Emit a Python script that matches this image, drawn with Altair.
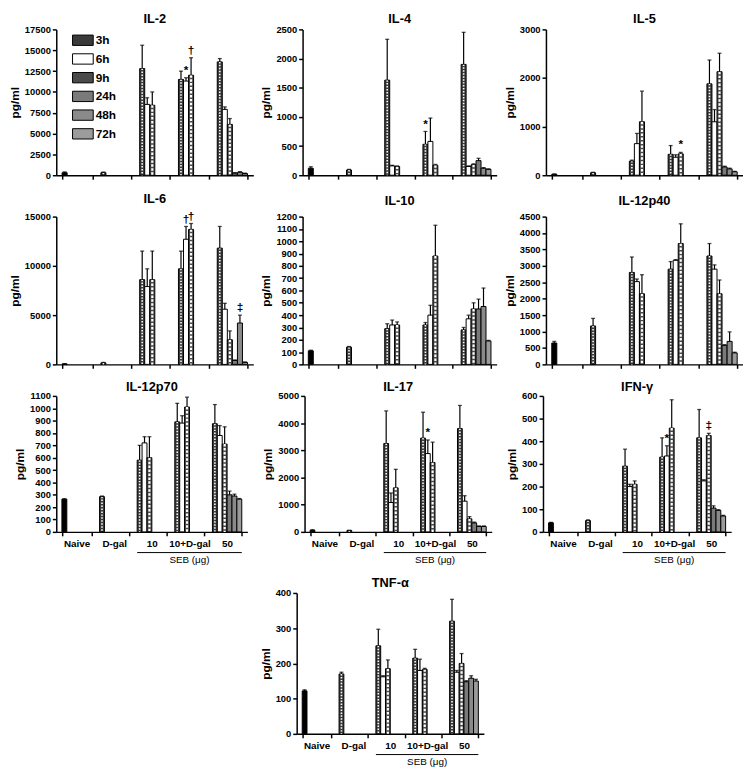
import altair as alt
import pandas as pd

FONT = "Liberation Sans"

# ---------------- data ----------------
GROUPS = ["Naive", "D-gal", "10", "10+D-gal", "50"]
TIMES = ["3h", "6h", "9h", "24h", "48h", "72h"]

BAR_GROUP = ["Naive", "D-gal", "10", "10", "10", "10+D-gal", "10+D-gal", "10+D-gal",
             "50", "50", "50", "50", "50", "50"]
BAR_TIME = ["3h", "3h", "3h", "6h", "9h", "3h", "6h", "9h",
            "3h", "6h", "9h", "24h", "48h", "72h"]
BAR_STYLE = ["Naive", "3h", "3h", "6h", "9h", "3h", "6h", "9h",
             "3h", "6h", "9h", "24h", "48h", "72h"]

CYTOKINES = ["IL-2", "IL-4", "IL-5", "IL-6", "IL-10", "IL-12p40",
             "IL-12p70", "IL-17", "IFN-γ", "TNF-α"]

IL2_MEAN = [300, 300, 12800, 8500, 8400, 11500, 11300, 12000, 13600, 7900, 6100, 250, 350, 200]
IL2_ERR = [100, 80, 2800, 800, 1600, 1000, 400, 2100, 400, 300, 700, 60, 80, 50]

IL4_MEAN = [120, 90, 1630, 160, 150, 530, 580, 170, 1900, 150, 180, 250, 120, 100]
IL4_ERR = [25, 10, 700, 10, 10, 220, 400, 15, 550, 10, 15, 40, 10, 10]

IL5_MEAN = [20, 50, 290, 650, 1100, 430, 370, 440, 1880, 1100, 2130, 170, 130, 70]
IL5_ERR = [5, 10, 20, 210, 630, 180, 50, 30, 490, 250, 380, 15, 15, 10]

IL6_MEAN = [50, 150, 8600, 7900, 8600, 9700, 12700, 13700, 11800, 5600, 2500, 400, 4200, 200]
IL6_ERR = [20, 50, 2900, 1800, 2900, 1800, 1300, 600, 2200, 600, 900, 50, 800, 50]

IL10_MEAN = [110, 140, 290, 320, 320, 320, 400, 880, 280, 370, 450, 450, 470, 190]
IL10_ERR = [5, 5, 40, 40, 25, 20, 80, 250, 20, 30, 50, 80, 150, 5]

IL12P40_MEAN = [650, 1170, 2800, 2520, 2150, 2900, 3170, 3680, 3300, 2900, 2150, 580, 700, 350]
IL12P40_ERR = [50, 230, 470, 80, 580, 230, 20, 600, 380, 130, 420, 20, 290, 20]

IL12P70_MEAN = [265, 285, 580, 720, 600, 890, 880, 1010, 875, 780, 710, 300, 290, 265]
IL12P70_ERR = [3, 5, 120, 50, 170, 150, 60, 80, 155, 80, 140, 30, 15, 5]

IL17_MEAN = [60, 50, 3250, 1080, 1620, 3450, 2880, 2550, 3800, 1130, 480, 330, 200, 200]
IL17_ERR = [20, 10, 1200, 350, 680, 950, 500, 750, 850, 200, 80, 30, 20, 20]

IFNG_MEAN = [40, 50, 290, 200, 210, 330, 335, 458, 415, 225, 425, 105, 95, 70]
IFNG_ERR = [2, 3, 75, 10, 15, 85, 45, 125, 125, 5, 10, 10, 3, 3]

TNFA_MEAN = [122, 170, 250, 162, 185, 215, 180, 183, 320, 175, 200, 148, 158, 150]
TNFA_ERR = [3, 5, 47, 3, 25, 25, 32, 3, 62, 5, 28, 3, 7, 5]

MEANS = {"IL-2": IL2_MEAN, "IL-4": IL4_MEAN, "IL-5": IL5_MEAN, "IL-6": IL6_MEAN,
         "IL-10": IL10_MEAN, "IL-12p40": IL12P40_MEAN, "IL-12p70": IL12P70_MEAN,
         "IL-17": IL17_MEAN, "IFN-γ": IFNG_MEAN, "TNF-α": TNFA_MEAN}
ERRS = {"IL-2": IL2_ERR, "IL-4": IL4_ERR, "IL-5": IL5_ERR, "IL-6": IL6_ERR,
        "IL-10": IL10_ERR, "IL-12p40": IL12P40_ERR, "IL-12p70": IL12P70_ERR,
        "IL-17": IL17_ERR, "IFN-γ": IFNG_ERR, "TNF-α": TNFA_ERR}

Y_TICKS = {
    "IL-2": [0, 2500, 5000, 7500, 10000, 12500, 15000, 17500],
    "IL-4": [0, 500, 1000, 1500, 2000, 2500],
    "IL-5": [0, 1000, 2000, 3000],
    "IL-6": [0, 5000, 10000, 15000],
    "IL-10": [0, 100, 200, 300, 400, 500, 600, 700, 800, 900, 1000, 1100, 1200],
    "IL-12p40": [0, 500, 1000, 1500, 2000, 2500, 3000, 3500, 4000, 4500],
    "IL-12p70": [0, 100, 200, 300, 400, 500, 600, 700, 800, 900, 1000, 1100],
    "IL-17": [0, 1000, 2000, 3000, 4000, 5000],
    "IFN-γ": [0, 100, 200, 300, 400, 500, 600],
    "TNF-α": [0, 100, 200, 300, 400],
}

ANNOT_CYTOKINE = ["IL-2", "IL-2", "IL-4", "IL-5", "IL-6", "IL-6", "IL-6", "IL-17", "IFN-γ", "IFN-γ"]
ANNOT_BAR = [6, 7, 5, 7, 6, 7, 12, 6, 6, 10]
ANNOT_MARK = ["*", "†", "*", "*", "†", "†", "‡", "*", "*", "‡"]

SEB_FROM, SEB_TO, SEB_MID = "10", "50", "10+D-gal"
SEB_LABEL = "SEB (μg)"

# ---------------- styles ----------------
STYLES = ["Naive", "3h", "6h", "9h", "24h", "48h", "72h"]
FILLS = ["#000000", "#3a3a3a", "#ffffff", "#4a4a4a", "#7a7a7a", "#8a8a8a", "#9c9c9c"]

rows = []
for c in CYTOKINES:
    for i in range(len(BAR_GROUP)):
        m = MEANS[c][i]
        rows.append(dict(cytokine=c, group=BAR_GROUP[i], time=BAR_TIME[i],
                         style=BAR_STYLE[i], mean=m, top=m + ERRS[c][i]))
bars_df = pd.DataFrame(rows)

ann_df = pd.DataFrame([
    dict(cytokine=c, group=BAR_GROUP[b], time=BAR_TIME[b],
         top=MEANS[c][b] + ERRS[c][b], mark=s)
    for c, b, s in zip(ANNOT_CYTOKINE, ANNOT_BAR, ANNOT_MARK)
])

seb_df = pd.DataFrame({"start": [SEB_FROM], "end": [SEB_TO], "mid": [SEB_MID], "label": [SEB_LABEL]})


def panel(c, w, h, show_labels, title_offset, legend=False):
    d = bars_df[bars_df.cytokine == c]
    xscale = alt.Scale(domain=GROUPS, paddingInner=0.22, paddingOuter=0.15)
    if show_labels:
        xaxis = alt.Axis(title=None, labelAngle=0, labelFontSize=10, labelPadding=3,
                         tickBand="extent", tickSize=4)
    else:
        xaxis = alt.Axis(title=None, labels=False, tickBand="extent", tickSize=4)
    X = alt.X("group:N", scale=xscale, axis=xaxis, sort=GROUPS)
    XO = alt.XOffset("time:N", scale=alt.Scale(domain=TIMES, paddingInner=0, paddingOuter=0))
    ticks = Y_TICKS[c]
    yscale = alt.Scale(domain=[0, ticks[-1]], nice=False)
    yaxis = alt.Axis(values=ticks, title="pg/ml", format="d", tickSize=4,
                     labelPadding=2, titlePadding=3)
    Y = alt.Y("mean:Q", scale=yscale, axis=yaxis)
    Ytop = alt.Y("top:Q", scale=yscale, axis=yaxis)
    if legend:
        leg = alt.Legend(values=TIMES, title=None, orient="none", legendX=16, legendY=0,
                         symbolType="M-1,-0.5H1V0.5H-1Z", symbolSize=441,
                         symbolStrokeColor="black", symbolStrokeWidth=1,
                         labelFont=FONT, labelFontSize=12, labelFontWeight="bold",
                         labelOffset=2, rowPadding=-4, labelColor="black")
    else:
        leg = None
    base = alt.Chart(d)
    bars = base.mark_bar(stroke="black", strokeWidth=1).encode(
        x=X, xOffset=XO, y=Y,
        fill=alt.Fill("style:N", scale=alt.Scale(domain=STYLES, range=FILLS), legend=leg))
    dash3 = base.transform_filter(alt.datum.style == "3h").mark_rule(
        color="white", strokeWidth=1.6, strokeDash=[1.5, 1.5]).encode(
        x=X, xOffset=XO, y=Y, y2=alt.Y2Datum(0))
    dash9 = base.transform_filter(alt.datum.style == "9h").mark_rule(
        color="white", strokeWidth=2.2, strokeDash=[2.5, 1.5]).encode(
        x=X, xOffset=XO, y=Y, y2=alt.Y2Datum(0))
    err = base.mark_rule(color="black", strokeWidth=1.2).encode(
        x=X, xOffset=XO, y=Y, y2="top:Q")
    cap = base.mark_tick(color="black", thickness=1.3, size=4).encode(
        x=X, xOffset=XO, y=Ytop)
    layers = [bars, dash3, dash9, err, cap]
    a = ann_df[ann_df.cytokine == c]
    if len(a):
        layers.append(alt.Chart(a).mark_text(baseline="bottom", dy=-1, fontSize=12,
                                             font=FONT, fontWeight="bold", color="black").encode(
            x=X, xOffset=XO, y=Ytop, text="mark:N"))
    if show_labels:
        layers.append(alt.Chart(seb_df).mark_rule(color="black", strokeWidth=1).encode(
            x=alt.X("start:N", scale=xscale, bandPosition=0, axis=xaxis),
            x2=alt.X2("end:N", bandPosition=1),
            y=alt.value(h + 21)))
        layers.append(alt.Chart(seb_df).mark_text(fontSize=10, font=FONT, baseline="middle",
                                                  color="black").encode(
            x=alt.X("mid:N", scale=xscale, axis=xaxis), text="label:N",
            y=alt.value(h + 29)))
    return alt.layer(*layers).properties(
        width=w, height=h,
        title=alt.TitleParams(c, fontSize=13, font=FONT, fontWeight="bold", offset=title_offset,
                              anchor="middle", frame="group", color="black"))


RES = dict(x="independent", y="independent", fill="independent", xOffset="independent")

row1 = alt.hconcat(panel("IL-2", 200, 148, False, -2, legend=True),
                   panel("IL-4", 197, 148, False, -2),
                   panel("IL-5", 200, 148, False, -2), spacing=6).resolve_scale(**RES)
row2 = alt.hconcat(panel("IL-6", 200, 150, False, 4),
                   panel("IL-10", 197, 150, False, 4),
                   panel("IL-12p40", 200, 150, False, 4), spacing=6).resolve_scale(**RES)
row3 = alt.hconcat(panel("IL-12p70", 194, 138, True, -3),
                   panel("IL-17", 190, 138, True, -3),
                   panel("IFN-γ", 191, 138, True, -3), spacing=14).resolve_scale(**RES)
spacer = alt.Chart(pd.DataFrame({"s": [""]})).mark_text().encode(
    text="s:N", x=alt.value(0), y=alt.value(0)).properties(width=206, height=10)
row4 = alt.hconcat(spacer, panel("TNF-α", 190, 143, True, -2), spacing=0).resolve_scale(**RES)

chart = alt.vconcat(row1, row2, row3, row4, spacing=12).resolve_scale(**RES).properties(
    padding=0
).configure_view(stroke=None).configure_axis(
    domainColor="black", tickColor="black", labelColor="black", titleColor="black",
    labelFont=FONT, titleFont=FONT, labelFontWeight="bold", titleFontWeight="bold",
    labelFontSize=9.5, titleFontSize=12, domainWidth=1.5, tickWidth=1.5, grid=False
)

chart.save("out.html", embed_options={"renderer": "svg", "actions": False})
